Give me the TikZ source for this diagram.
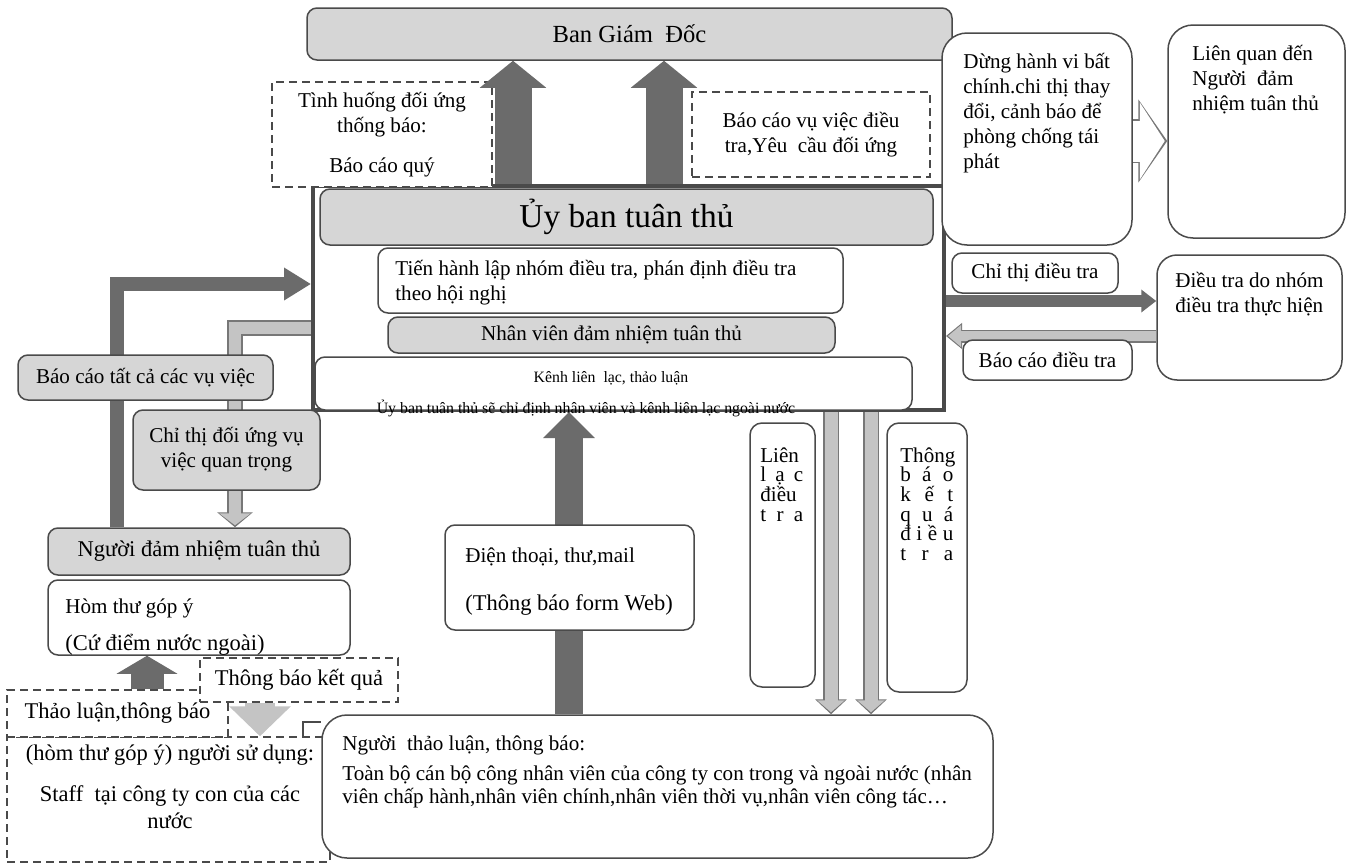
\documentclass[tikz,border=0pt]{standalone}
\usepackage{fontspec}
\setmainfont{Liberation Serif}
\usetikzlibrary{arrows.meta,positioning}

\definecolor{boxgray}{HTML}{D6D6D6}
\definecolor{linegray}{HTML}{4A4A4A}
\definecolor{arrowdark}{HTML}{6B6B6B}
\definecolor{arrowlight}{HTML}{C4C4C4}

\newcommand{\txtbase}{\fontsize{12pt}{14.2pt}\selectfont}
\newcommand{\txtmid}{\fontsize{12.8pt}{15pt}\selectfont}
\newcommand{\txthead}{\fontsize{14pt}{16pt}\selectfont}
\newcommand{\txtbig}{\fontsize{19pt}{22pt}\selectfont}
\newcommand{\txtsmall}{\fontsize{9pt}{11pt}\selectfont}
\newcommand{\txtnarrow}{\fontsize{12pt}{11.2pt}\selectfont\lineskiplimit=-20pt}
\newcommand{\txttight}{\fontsize{12pt}{13pt}\selectfont\lineskiplimit=-20pt}

\tikzset{
  spot/.style args={#1/#2/#3/#4}{at={({(#1+#3)/2},{(#2+#4)/2})}, minimum width={(#3-#1)*0.2mm}, minimum height={(#4-#2)*0.2mm}},
  panel/.style={draw=linegray, line width=0.3mm, rounded corners=2mm, inner sep=0pt},
  graybox/.style={panel, fill=boxgray},
  whitebox/.style={panel, fill=white},
  roundbox/.style={panel, fill=white, rounded corners=5mm},
  dashbox/.style={draw=linegray, line width=0.3mm, dash pattern=on 1.6mm off 1mm, fill=white, inner sep=0pt},
  outerframe/.style={draw=linegray, line width=0.8mm, fill=white, inner sep=0pt},
  words/.style={inner sep=0pt, align=left},
  darkarrow/.style n args={3}{draw=arrowdark, line width=#1, -{Triangle[width=#2,length=#3]}},
  lightarrow/.style n args={3}{draw=arrowlight, line width=#1, -{Triangle[width=#2,length=#3]}},
  rimarrow/.style n args={3}{draw=linegray!75, line width=#1, -{Triangle[width=#2,length=#3]}}
}

\begin{document}
\begin{tikzpicture}[x=0.2mm, y=-0.2mm, font=\txtbase]
\useasboundingbox (0,0) rectangle (1352,864);
\fill[white] (0,0) rectangle (1352,864);

% where the arrows run
\coordinate (xup1) at (513,0);
\coordinate (xup2) at (664,0);
\coordinate (xhot) at (569,0);
\coordinate (xcontact) at (831,0);
\coordinate (xfinding) at (871,0);
\coordinate (xreport) at (117,0);
\coordinate (xorder) at (235,0);
\coordinate (xsubmit) at (147,0);
\coordinate (xresult) at (260,0);
\coordinate (xbracket) at (303,0);
\coordinate (yreport) at (0,284);
\coordinate (yorder) at (0,328);
\coordinate (ystop) at (0,141);
\coordinate (yinv) at (0,301);
\coordinate (yback) at (0,336);
\coordinate (ybracket) at (0,722);

% board and committee
\node (board) [graybox, spot=307/8/952/60, font=\txthead] {Ban Giám\ \ Đốc};
\node (committee) [outerframe, spot=313/186/944/410] {};
\node (cmtitle) [graybox, spot=320/189/933/245, font=\txtbig] {Ủy ban tuân thủ};
\node (setup) [whitebox, spot=378/248/843/313] {};
	\node (setuptext) [words, anchor=base west] at (395,300) {Tiến hành lập nhóm điều tra, phán định điều tra\\theo hội nghị};
\node (staff) [graybox, spot=388/317/835/353] {Nhân viên đảm nhiệm tuân thủ};
\node (channel) [whitebox, spot=315/357/912/410] {};
	\node (channeltext) [inner sep=0pt, anchor=base, font=\txtsmall] at (611,382) {Kênh liên\ \ lạc, thảo luận};
	\node (channelnote) [inner sep=0pt, anchor=base, font=\txtsmall] at (586,413) {Ủy ban tuân thủ sẽ chỉ định nhân viên và kênh liên lạc ngoài nước};
\node (sitbox) [dashbox, spot=272/82/492/187, align=center] {Tình huống đối ứng\\thống báo:\\[3mm]Báo cáo quý};
\node (reqbox) [dashbox, spot=692/92/930/177, align=center] {Báo cáo vụ việc điều\\tra,Yêu\ \ cầu đối ứng};

% right side
\node (stopbox) [roundbox, spot=942/33/1132/245] {};
	\node (stoptext) [words, anchor=base west] at (963,168) {Dừng hành vi bất\\chính.chi thị thay\\đổi, cảnh báo để\\phòng chống tái\\phát};
\node (liabbox) [roundbox, spot=1168/25/1345/238] {};
	\node (liabtext) [words, anchor=base west] at (1192,110) {Liên quan đến\\Người\ \ đảm\\nhiệm tuân thủ};
\node (teambox) [roundbox, rounded corners=4mm, spot=1157/255/1342/380] {};
	\node (teamtext) [words, anchor=base west] at (1175,312) {Điều tra do nhóm\\điều tra thực hiện};

% left and bottom
\node (officer) [graybox, spot=48/528/350/575, font=\txtmid] {Người đảm nhiệm tuân thủ};
\node (mailbox) [whitebox, spot=48/580/350/655] {};
	\node (mailtext) [words, anchor=base west] at (65,650) {Hòm thư góp ý\\[2.4mm]{\txtmid (Cứ điểm nước ngoài)}};
\node (userbox) [dashbox, spot=7/737/330/862] {};
	\node (usertext) [inner sep=0pt, align=center, anchor=base, font=\txtmid] at (170,828) {(hòm thư góp ý) người sử dụng:\\[3mm]Staff\ \ tại công ty con của các\\nước};
\node (reporters) [roundbox, spot=322/715/993/858] {};
	\node (reportertext) [words, anchor=base west, font=\txttight] at (342,803) {Người\ \ thảo luận, thông báo:\\[1.4mm]Toàn bộ cán bộ công nhân viên của công ty con trong và ngoài nước (nhân\\viên chấp hành,nhân viên chính,nhân viên thời vụ,nhân viên công tác…};
\draw[linegray, line width=0.3mm] (xbracket |- userbox.north) |- (reporters.west |- ybracket);
\node (discussbox) [dashbox, spot=7/690/228/737, font=\txtmid] {Thảo luận,thông báo};
\node (resultbox) [dashbox, spot=200/658/398/702, font=\txtmid] {Thông báo kết quả};
\node (contactbox) [whitebox, rounded corners=2.4mm, spot=750/423/815/687] {};
	\node (contacttext) [words, text width=8.6mm, anchor=base west, font=\txtnarrow] at (760,462) {Liên\\l\hfill ạ\hfill c\\điều\\t\hfill r\hfill a};
\node (findingbox) [whitebox, rounded corners=2.4mm, spot=887/423/967/692] {};
	\node (findingtext) [words, text width=10.6mm, anchor=base west, font=\txtnarrow] at (900,462) {Thông\\b\hfill á\hfill o\\k\hfill ế\hfill t\\q\hfill u\hfill á\\đ\hfill i\hfill ề\hfill u\\t\hfill r\hfill a};

% arrows
\draw[darkarrow={7.4mm}{13mm}{5.4mm}] (xup1 |- committee.north) -- (xup1 |- board.south);
\draw[darkarrow={7.4mm}{13mm}{5.4mm}] (xup2 |- committee.north) -- (xup2 |- board.south);
\draw[darkarrow={2.8mm}{6.2mm}{5.4mm}] (xreport |- officer.north) |- (committee.west |- yreport);
\draw[rimarrow={3.2mm}{7mm}{3mm}, postaction={lightarrow={2.4mm}{6.2mm}{2.4mm}, shorten >=0.4mm}] (committee.west |- yorder) -| (xorder |- officer.north);
\draw[darkarrow={6.6mm}{12mm}{3.6mm}] (xsubmit |- discussbox.north) -- (xsubmit |- mailbox.south);
\draw[lightarrow={6mm}{12mm}{6mm}] (xresult |- resultbox.south) -- (xresult |- userbox.north);
\draw[darkarrow={5.6mm}{10mm}{5.2mm}] (xhot |- reporters.north) -- (xhot |- committee.south);
\draw[rimarrow={3.2mm}{6.2mm}{3mm}, postaction={lightarrow={2.6mm}{5.4mm}{2.4mm}, shorten >=0.4mm}] (xcontact |- committee.south) -- (xcontact |- reporters.north);
\draw[rimarrow={3.2mm}{6.2mm}{3mm}, postaction={lightarrow={2.6mm}{5.4mm}{2.4mm}, shorten >=0.4mm}] (xfinding |- committee.south) -- (xfinding |- reporters.north);
\draw[rimarrow={8.8mm}{16.4mm}{5.8mm}, postaction={lightarrow={8.2mm}{15.2mm}{5mm}, draw=white, shorten >=0.5mm}] (stopbox.east |- ystop) -- (liabbox.west |- ystop);
\draw[darkarrow={2.4mm}{4.4mm}{3mm}] (committee.east |- yinv) -- (teambox.west |- yinv);
\draw[rimarrow={2.6mm}{5mm}{3.2mm}, postaction={lightarrow={2mm}{4.2mm}{2.6mm}, shorten >=0.4mm}] (teambox.west |- yback) -- (committee.east |- yback);

% labels on the arrows
\node (reportlabel) [graybox, spot=18/355/273/400] {Báo cáo tất cả các vụ việc};
\node (orderlabel) [graybox, spot=133/410/320/490, align=center] {Chỉ thị đối ứng vụ\\việc quan trọng};
\node (phonebox) [whitebox, spot=445/525/694/630] {};
	\node (phonetext) [words, anchor=base west] at (465,610) {Điện thoại, thư,mail\\[4.6mm]{\txtmid (Thông báo form Web)}};
\node (invorder) [whitebox, spot=952/253/1118/293] {Chỉ thị điều tra};
\node (invreport) [whitebox, spot=963/340/1132/380] {Báo cáo điều tra};
\end{tikzpicture}
\end{document}
